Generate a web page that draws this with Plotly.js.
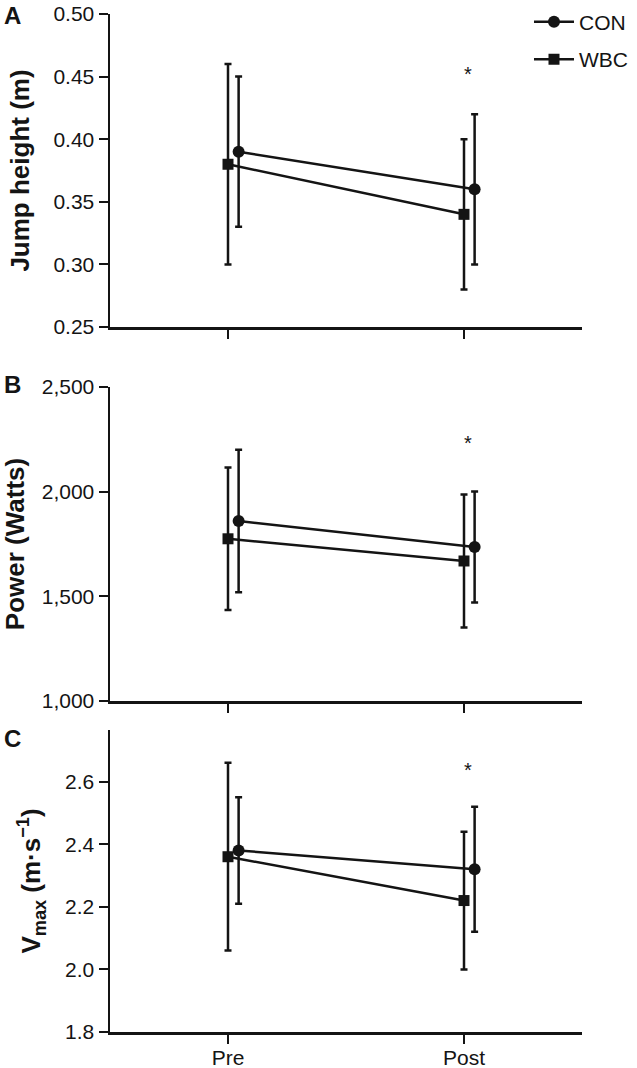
<!DOCTYPE html>
<html>
<head>
<meta charset="utf-8">
<script src="https://cdn.plot.ly/plotly-3.0.1.min.js"></script>
<style>html,body{margin:0;padding:0;background:#fff;}#chart{width:637px;height:1068px;}</style>
</head>
<body>
<div id="chart"></div>
<script>
// ---- data ----
const groups = ['Pre', 'Post'];
const seriesNames = ['CON', 'WBC'];

const conJump = [0.39, 0.36];
const conJumpErr = [0.06, 0.06];
const wbcJump = [0.38, 0.34];
const wbcJumpErr = [0.08, 0.06];

const conPower = [1860, 1736];
const conPowerErr = [340, 265];
const wbcPower = [1775, 1669];
const wbcPowerErr = [340, 318];

const conVmax = [2.38, 2.32];
const conVmaxErr = [0.17, 0.20];
const wbcVmax = [2.36, 2.22];
const wbcVmaxErr = [0.30, 0.22];

const starValues = [0.452, 2231, 2.637]; // significance marker heights at Post
const panelLetters = ['A', 'B', 'C'];
const yTitles = ['Jump height (m)', 'Power (Watts)', 'V<sub>max</sub> (m·s<sup>−1</sup>)'];

// ---- build ----
const conOffset = 0.045;
const xBase = groups.map((g, i) => i);
const xCon = xBase.map(v => v + conOffset);
const xWbc = xBase.slice();

const black = '#141414';
function makeTrace(name, x, y, err, axIdx, symbol, size, showLegend) {
  const sfx = axIdx === 1 ? '' : String(axIdx);
  return {
    type: 'scatter', mode: 'lines+markers', name: name,
    x: x, y: y, xaxis: 'x' + sfx, yaxis: 'y' + sfx,
    legendgroup: name, showlegend: showLegend,
    line: {color: black, width: 2.5},
    marker: {color: black, symbol: symbol, size: size},
    error_y: {type: 'data', array: err, visible: true, color: black, thickness: 2.5, width: 3.5}
  };
}

const traces = [
  makeTrace(seriesNames[0], xCon, conJump, conJumpErr, 1, 'circle', 12, true),
  makeTrace(seriesNames[1], xWbc, wbcJump, wbcJumpErr, 1, 'square', 11, true),
  makeTrace(seriesNames[0], xCon, conPower, conPowerErr, 2, 'circle', 12, false),
  makeTrace(seriesNames[1], xWbc, wbcPower, wbcPowerErr, 2, 'square', 11, false),
  makeTrace(seriesNames[0], xCon, conVmax, conVmaxErr, 3, 'circle', 12, false),
  makeTrace(seriesNames[1], xWbc, wbcVmax, wbcVmaxErr, 3, 'square', 11, false)
];

const fontFam = 'Liberation Sans, Arial, sans-serif';
const tickFont = {family: fontFam, size: 21, color: black};
const titleFont = {family: fontFam, size: 26, color: black, weight: 'bold'};

function xAxis(anchor, showLabels) {
  return {
    anchor: anchor, domain: [0, 1], range: [-0.5, 1.5],
    tickmode: 'array', tickvals: xBase, ticktext: groups,
    showticklabels: showLabels, ticks: 'outside', ticklen: 9, tickwidth: 2, tickcolor: black,
    ticklabelstandoff: -4,
    showline: true, linecolor: black, linewidth: 2.5, showgrid: false, zeroline: false,
    tickfont: tickFont, fixedrange: true
  };
}
function yAxis(anchor, domain, range, dtick, fmt, title) {
  return {
    anchor: anchor, domain: domain, range: range, dtick: dtick, tick0: range[0], tickformat: fmt,
    ticks: 'outside', ticklen: 9, tickwidth: 2, tickcolor: black,
    showline: true, linecolor: black, linewidth: 2.5, showgrid: false, zeroline: false,
    tickfont: tickFont, title: {text: title, font: titleFont, standoff: 17}, automargin: false
  };
}

const starX = 1.015;
const starFont = {family: fontFam, size: 20, color: black};
const annotations = [
  {xref: 'x', yref: 'y', x: starX, y: starValues[0], text: '*', showarrow: false, font: starFont},
  {xref: 'x2', yref: 'y2', x: starX, y: starValues[1], text: '*', showarrow: false, font: starFont},
  {xref: 'x3', yref: 'y3', x: starX, y: starValues[2], text: '*', showarrow: false, font: starFont}
];
const letterY = [1.0138, 0.6365, 0.2888];
const letterAnchor = ['top', 'middle', 'middle'];
panelLetters.forEach((L, i) => {
  annotations.push({xref: 'paper', yref: 'paper', x: -0.229, y: letterY[i], xanchor: 'left', yanchor: letterAnchor[i],
    text: '<b>' + L + '</b>', showarrow: false, font: {family: fontFam, size: 24, color: black}});
});

const layout = {
  width: 637, height: 1068,
  margin: {l: 110, r: 55, t: 14, b: 36, autoexpand: false},
  paper_bgcolor: '#ffffff', plot_bgcolor: '#ffffff',
  showlegend: true,
  legend: {x: 0.8877, y: 1.0121, xanchor: 'left', yanchor: 'top', font: {family: fontFam, size: 21, color: black},
    traceorder: 'grouped', tracegroupgap: 7, itemwidth: 40, bgcolor: 'rgba(0,0,0,0)'},
  xaxis: xAxis('y', false),
  xaxis2: xAxis('y2', false),
  xaxis3: xAxis('y3', true),
  yaxis: yAxis('x', [0.6925, 1], [0.25, 0.50], 0.05, '.2f', yTitles[0]),
  yaxis2: yAxis('x2', [0.3251, 0.6336], [1000, 2500], 500, ',d', yTitles[1]),
  yaxis3: yAxis('x3', [0, 0.2967], [1.8, 2.765], 0.2, '.1f', yTitles[2]),
  annotations: annotations
};

Plotly.newPlot('chart', traces, layout, {displayModeBar: false, staticPlot: true});
</script>
</body>
</html>
